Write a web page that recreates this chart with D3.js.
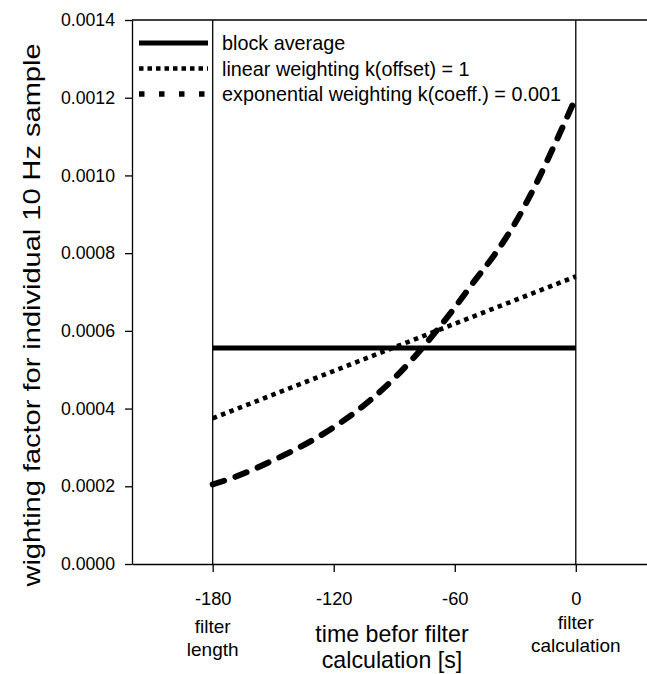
<!DOCTYPE html>
<html>
<head>
<meta charset="utf-8">
<script src="https://cdn.jsdelivr.net/npm/d3@7"></script>
<style>
  html, body { margin: 0; padding: 0; background: #fff; }
  svg { display: block; font-family: "Liberation Sans", Arial, sans-serif; }
</style>
</head>
<body>
<svg width="647" height="674"></svg>
<script>
// data
const blockTime = [-180, 0];
const blockValue = [0.000556, 0.000556];

const linearTime = [-180, 0];
const linearValue = [0.000375, 0.00074];

const expTime = [-180, -170, -160, -150, -140, -130, -120, -110, -100, -90,
  -80, -70, -60, -50, -40, -30, -20, -10, 0];
const expValue = [0.000205, 0.000222, 0.000243, 0.000267, 0.000292, 0.00032,
  0.000352, 0.000388, 0.00043, 0.000478, 0.000533, 0.000594, 0.00066,
  0.00073, 0.000798, 0.000878, 0.000975, 0.001085, 0.0012];

const xTicks = [-180, -120, -60, 0];
const yTicks = [0, 0.0002, 0.0004, 0.0006, 0.0008, 0.001, 0.0012, 0.0014];
const legendLabels = [
  "block average",
  "linear weighting k(offset) = 1",
  "exponential weighting k(coeff.) = 0.001"
];

const svg = d3.select("svg");

const x = d3.scaleLinear().domain([-220, 35.3]).range([132, 647]);
const y = d3.scaleLinear().domain([0, 0.0014]).range([564, 20]);

// axes
const yAxis = svg.append("g")
  .attr("transform", `translate(${x(-220)},0)`)
  .call(d3.axisLeft(y).tickValues(yTicks).tickFormat(d3.format(".4f"))
    .tickSize(7).tickSizeOuter(0).tickPadding(10));

const xAxis = svg.append("g")
  .attr("transform", `translate(0,${y(0)})`)
  .call(d3.axisBottom(x).tickValues(xTicks).tickFormat(d => String(d))
    .tickSize(8).tickSizeOuter(0).tickPadding(20));

[yAxis, xAxis].forEach(g => {
  g.selectAll("path, line").attr("stroke", "#000").attr("stroke-width", 1.3);
  g.selectAll("text").attr("fill", "#000").attr("font-family", "Liberation Sans, Arial, sans-serif");
});
yAxis.selectAll("text").attr("font-size", 17.7);
xAxis.selectAll("text").attr("font-size", 18.3);

// top frame line
svg.append("line")
  .attr("x1", x(-220)).attr("x2", x(35.3))
  .attr("y1", y(0.0014)).attr("y2", y(0.0014))
  .attr("stroke", "#000").attr("stroke-width", 1.3);

// vertical markers at filter start and calculation time
[-180, 0].forEach(t => {
  svg.append("line")
    .attr("x1", x(t)).attr("x2", x(t))
    .attr("y1", y(0.0014)).attr("y2", y(0))
    .attr("stroke", "#000").attr("stroke-width", 1.3);
});

const line = d3.line().x(d => x(d[0])).y(d => y(d[1]));

// block average
svg.append("path")
  .datum(d3.zip(blockTime, blockValue))
  .attr("d", line)
  .attr("fill", "none").attr("stroke", "#000").attr("stroke-width", 5);

// linear weighting
svg.append("path")
  .datum(d3.zip(linearTime, linearValue))
  .attr("d", line)
  .attr("fill", "none").attr("stroke", "#000").attr("stroke-width", 4.6)
  .attr("stroke-dasharray", "4.5,4.5");

// exponential weighting
svg.append("path")
  .datum(d3.zip(expTime, expValue))
  .attr("d", line.curve(d3.curveMonotoneX))
  .attr("fill", "none").attr("stroke", "#000").attr("stroke-width", 6)
  .attr("stroke-linecap", "round")
  .attr("stroke-dasharray", "12,12");

// legend
const legendStyles = [
  { w: 5, dash: null },
  { w: 4.5, dash: "4.5,4" },
  { w: 5.5, dash: "5.5,14.5" }
];
const legend = svg.append("g");
legendLabels.forEach((label, i) => {
  const ly = 43 + i * 25.5;
  legend.append("line")
    .attr("x1", 139).attr("x2", 208)
    .attr("y1", ly).attr("y2", ly)
    .attr("stroke", "#000")
    .attr("stroke-width", legendStyles[i].w)
    .attr("stroke-dasharray", legendStyles[i].dash);
  legend.append("text")
    .attr("x", 222).attr("y", ly + 7)
    .attr("font-size", 19.8)
    .text(label);
});

// axis titles
svg.append("text")
  .attr("transform", "translate(40,315) scale(0.85,1) rotate(-90)")
  .attr("text-anchor", "middle")
  .attr("font-size", 29)
  .text("wighting factor for individual 10 Hz sample");

const xTitle = svg.append("text")
  .attr("text-anchor", "middle")
  .attr("font-size", 23.2);
xTitle.append("tspan").attr("x", 392).attr("y", 642).text("time befor filter");
xTitle.append("tspan").attr("x", 392).attr("y", 668).text("calculation [s]");

const subLabels = [
  { t: -180, lines: ["filter", "length"], y0: 633 },
  { t: 0, lines: ["filter", "calculation"], y0: 629 }
];
subLabels.forEach(s => {
  const txt = svg.append("text")
    .attr("text-anchor", "middle")
    .attr("font-size", 19);
  s.lines.forEach((l, i) => {
    txt.append("tspan").attr("x", x(s.t)).attr("y", s.y0 + i * 22.5).text(l);
  });
});
</script>
</body>
</html>
